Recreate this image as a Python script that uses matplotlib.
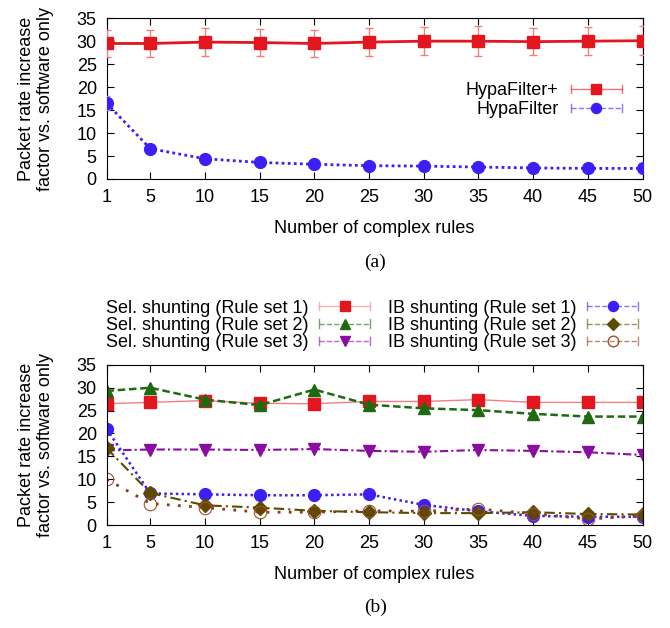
import numpy as np
import matplotlib
matplotlib.use("Agg")
import matplotlib.pyplot as plt
from matplotlib.lines import Line2D
from matplotlib.legend_handler import HandlerBase

plt.rcParams['font.family'] = ['Liberation Sans', 'DejaVu Sans']
plt.rcParams['font.size'] = 13

# data
rules = [1, 5, 10, 15, 20, 25, 30, 35, 40, 45, 50]

hypa_plus = [29.5, 29.5, 29.8, 29.7, 29.5, 29.8, 30.0, 30.0, 29.9, 30.0, 30.1]
hypa_plus_err = [3.0, 3.0, 3.1, 3.0, 2.9, 3.1, 3.1, 3.2, 3.0, 3.1, 3.2]
hypa = [16.5, 6.6, 4.4, 3.6, 3.2, 2.9, 2.8, 2.6, 2.4, 2.3, 2.3]
hypa_err = [1.5, 0.3, 0.3, 0.2, 0.2, 0.2, 0.2, 0.2, 0.2, 0.2, 0.2]

sel1 = [26.5, 26.8, 27.2, 26.6, 26.5, 27.0, 27.0, 27.4, 26.8, 26.8, 26.8]
sel2 = [29.3, 30.0, 27.4, 26.2, 29.6, 26.3, 25.5, 25.1, 24.3, 23.7, 23.7]
sel3 = [16.3, 16.5, 16.5, 16.4, 16.6, 16.2, 16.0, 16.4, 16.2, 15.9, 15.3]
ib1 = [21.0, 6.9, 6.7, 6.5, 6.5, 6.7, 4.4, 3.0, 2.0, 1.8, 1.8]
ib2 = [16.8, 7.0, 4.3, 3.8, 3.1, 2.8, 2.6, 2.6, 2.8, 2.4, 2.3]
ib3 = [10.0, 4.7, 3.8, 2.8, 2.8, 3.1, 3.0, 3.5, 2.5, 1.3, 2.0]

RED = '#e3151f'
BLUE = '#3c1ff5'
GREEN = '#1f6a10'
PURPLE = '#8a0ca0'
OLIVE = '#5c4a00'
BROWN = '#a0522d'


class GnuplotKey(HandlerBase):
    """legend sample like gnuplot: |---marker---|"""
    def create_artists(self, legend, orig, xd, yd, w, h, fs, trans):
        y = (h - yd) / 2
        x0, x1 = -xd, -xd + w
        c = orig.get_color()
        line = Line2D([x0, x1], [y, y], color=c, lw=1, alpha=0.6,
                      ls=orig.get_linestyle())
        caps = Line2D([x0, x0, np.nan, x1, x1], [y - 3, y + 3, np.nan, y - 3, y + 3],
                      color=c, lw=1, alpha=0.6)
        mk = Line2D([(x0 + x1) / 2], [y], ls='none', marker=orig.get_marker(),
                    markersize=orig.get_markersize() * 0.85,
                    markerfacecolor=orig.get_markerfacecolor(),
                    markeredgecolor=orig.get_markeredgecolor())
        for a in (line, caps, mk):
            a.set_transform(trans)
        return [line, caps, mk]


def style_axes(ax):
    ax.set_xlim(1, 50)
    ax.set_ylim(0, 35)
    ax.set_xticks(rules)
    ax.set_yticks(range(0, 36, 5))
    ax.tick_params(direction='in', length=5, top=True, right=True, pad=7)
    ax.set_xlabel("Number of complex rules", labelpad=10)
    ax.set_ylabel("Packet rate increase\nfactor vs. software only", labelpad=16,
                  linespacing=1.2)


fig = plt.figure(figsize=(6.7, 6.28), dpi=100)

# (a)
ax1 = fig.add_axes([0.159, 0.715, 0.8, 0.256])
eb1 = ax1.errorbar(rules, hypa_plus, yerr=hypa_plus_err, color=RED, lw=2,
                   marker='s', markersize=9, ecolor='#f08080', elinewidth=1,
                   capsize=3, capthick=1, zorder=3)
eb2 = ax1.errorbar(rules, hypa, yerr=hypa_err, color=BLUE, lw=2, ls=(0, (1, 1.2)),
                   marker='o', markersize=8.5, ecolor='#9a8cf8', elinewidth=1,
                   capsize=2, zorder=3)
style_axes(ax1)
ax1.legend([eb1.lines[0], eb2.lines[0]], ["HypaFilter+", "HypaFilter"],
           handler_map={Line2D: GnuplotKey()}, loc='upper right',
           bbox_to_anchor=(0.928, 0.869), bbox_transform=fig.transFigure,
           frameon=False, markerfirst=False, handlelength=2.8, handletextpad=0.7,
           borderpad=0, borderaxespad=0, labelspacing=0.12)
fig.text(0.56, 0.582, "(a)", ha='center', va='center', fontsize=14,
         family='Liberation Serif')

# (b)
ax2 = fig.add_axes([0.159, 0.164, 0.8, 0.255])
l1, = ax2.plot(rules, sel1, color='#f08080', lw=1, marker='s', markersize=9,
               markerfacecolor=RED, markeredgecolor=RED)
l2, = ax2.plot(rules, sel2, color=GREEN, lw=1.8, ls=(0, (3, 1.5)), marker='^',
               markersize=8)
l3, = ax2.plot(rules, sel3, color=PURPLE, lw=1.5, ls=(0, (4, 1.5, 1, 1.5)),
               marker='v', markersize=8)
l4, = ax2.plot(rules, ib1, color=BLUE, lw=1.8, ls=(0, (1, 1.3)), marker='o',
               markersize=8.5)
l5, = ax2.plot(rules, ib2, color=OLIVE, lw=1.5, ls=(0, (5, 2, 1, 2)), marker='D',
               markersize=7)
l6, = ax2.plot(rules, ib3, color='#8b3a1a', lw=2, ls=(0, (1, 3)), marker='o',
               markersize=9, markerfacecolor='none', markeredgecolor=BROWN,
               markeredgewidth=0.8)
style_axes(ax2)
ax2.legend([l1, l2, l3, l4, l5, l6],
           ["Sel. shunting (Rule set 1)", "Sel. shunting (Rule set 2)",
            "Sel. shunting (Rule set 3)", "IB shunting (Rule set 1)",
            "IB shunting (Rule set 2)", "IB shunting (Rule set 3)"],
           handler_map={Line2D: GnuplotKey()}, loc='upper right', ncol=2,
           bbox_to_anchor=(0.952, 0.523), bbox_transform=fig.transFigure,
           frameon=False, markerfirst=False, handlelength=2.8, handletextpad=0.6,
           columnspacing=1.0, borderpad=0, borderaxespad=0, labelspacing=0.02)
fig.text(0.56, 0.033, "(b)", ha='center', va='center', fontsize=14,
         family='Liberation Serif')

fig.savefig("out.png", dpi=100)
